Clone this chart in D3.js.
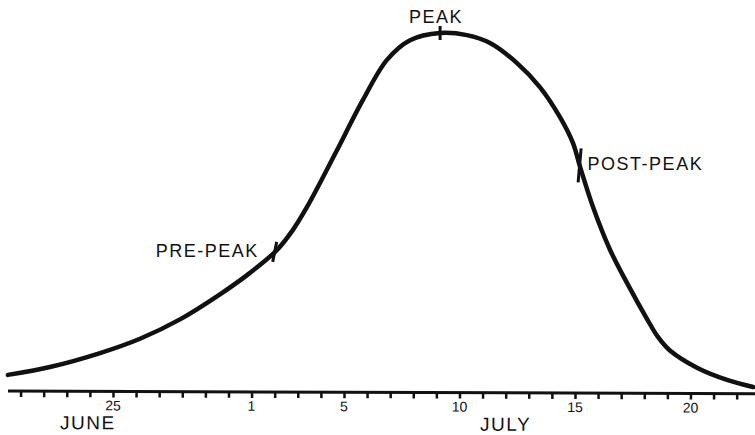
<!DOCTYPE html>
<html>
<head>
<meta charset="utf-8">
<script src="https://cdn.jsdelivr.net/npm/d3@7"></script>
<style>
  body { margin: 0; background: #fff; }
  text { font-family: "Liberation Sans", Arial, sans-serif; fill: #111; }
</style>
</head>
<body>
<div id="chart"></div>
<script>
// days counted from June 25 (0 = June 25, 6 = July 1)
var curveDays   = [-4.55, -2.73, -0.56, 1.17, 2.90, 4.63, 5.93, 7.10, 7.79, 8.40, 8.96, 9.70, 10.82, 11.86, 12.86, 14.16, 15.32, 16.32, 17.49, 18.48, 19.35, 19.91, 20.22, 20.78, 21.52, 22.25, 23.12, 23.59, 24.11, 25.28, 26.58, 27.71];
var curveValues = [4.5, 6.7, 10.6, 14.6, 20.0, 27.0, 33.0, 39.4, 45.0, 51.4, 58.1, 67.3, 81.3, 92.5, 98.0, 100, 99.4, 97.2, 91.6, 84.9, 76.5, 69.3, 62.6, 51.4, 39.4, 30.2, 20.1, 15.1, 11.3, 6.5, 3.1, 1.1];

var tickDays   = d3.range(-4, 28);
var labelDays  = [0, 6, 10, 15, 20, 25];
var labelTexts = ["25", "1", "5", "10", "15", "20"];

var monthNames = ["JUNE", "JULY"];
var monthDays  = [-1.08, 17.0];

var markNames = ["PRE-PEAK", "PEAK", "POST-PEAK"];
var markDays  = [7.0, 14.16, 20.2];

var width = 755, height = 435;

var svg = d3.select("#chart")
    .append("svg")
        .attr("width", width)
        .attr("height", height);

var x = d3.scaleLinear().domain([0, 25]).range([113, 690.5]);
var y = d3.scaleLinear().domain([0, 100]).range([391, 33]);

var interp = d3.scaleLinear().domain(curveDays).range(curveValues);

// axis (hand drawn, a little tilted)
var axis = d3.axisBottom(x)
    .tickValues(tickDays)
    .tickSize(6)
    .tickFormat("");

var ag = svg.append("g")
    .attr("transform", "translate(0,391) rotate(0.2,0,0)")
    .call(axis);

ag.select(".domain")
    .attr("d", "M8,0H755")
    .attr("stroke", "#111")
    .attr("stroke-width", 3);

ag.selectAll(".tick line")
    .attr("stroke", "#111")
    .attr("stroke-width", 2.5);

ag.selectAll(".day-label")
    .data(labelDays)
    .enter()
    .append("text")
        .attr("class", "day-label")
        .attr("x", function (d) { return x(d); })
        .attr("y", 19)
        .attr("text-anchor", "middle")
        .attr("font-size", 14)
        .text(function (d, i) { return labelTexts[i]; });

ag.selectAll(".month")
    .data(monthDays)
    .enter()
    .append("text")
        .attr("class", "month")
        .attr("x", function (d) { return x(d); })
        .attr("y", 38)
        .attr("text-anchor", "middle")
        .attr("font-size", 19)
        .attr("letter-spacing", 1.5)
        .text(function (d, i) { return monthNames[i]; });

// curve
var line = d3.line()
    .x(function (d, i) { return x(curveDays[i]); })
    .y(function (d) { return y(d); })
    .curve(d3.curveCatmullRom);

svg.append("path")
    .datum(curveValues)
    .attr("d", line)
    .attr("fill", "none")
    .attr("stroke", "#111")
    .attr("stroke-width", 4.5)
    .attr("stroke-linecap", "round");

// marks on curve
var markLen = [20, 14, 34];
var markTilt = [4, 0, 3];

svg.selectAll(".mark")
    .data(markDays)
    .enter()
    .append("line")
        .attr("class", "mark")
        .attr("x1", function (d, i) { return x(d) + markTilt[i] / 2; })
        .attr("x2", function (d, i) { return x(d) - markTilt[i] / 2; })
        .attr("y1", function (d, i) { return y(interp(d)) - markLen[i] / 2; })
        .attr("y2", function (d, i) { return y(interp(d)) + markLen[i] / 2; })
        .attr("stroke", "#111")
        .attr("stroke-width", 3);

// labels
svg.append("text")
    .attr("x", x(markDays[0]) - 16)
    .attr("y", y(interp(markDays[0])) + 5)
    .attr("text-anchor", "end")
    .attr("font-size", 18)
    .attr("letter-spacing", 1.5)
    .text(markNames[0]);

svg.append("text")
    .attr("x", x(markDays[1]) - 4)
    .attr("y", 23)
    .attr("text-anchor", "middle")
    .attr("font-size", 18)
    .attr("letter-spacing", 1.5)
    .text(markNames[1]);

svg.append("text")
    .attr("x", x(markDays[2]) + 8)
    .attr("y", y(interp(markDays[2])) + 5)
    .attr("text-anchor", "start")
    .attr("font-size", 18)
    .attr("letter-spacing", 1.5)
    .text(markNames[2]);
</script>
</body>
</html>
